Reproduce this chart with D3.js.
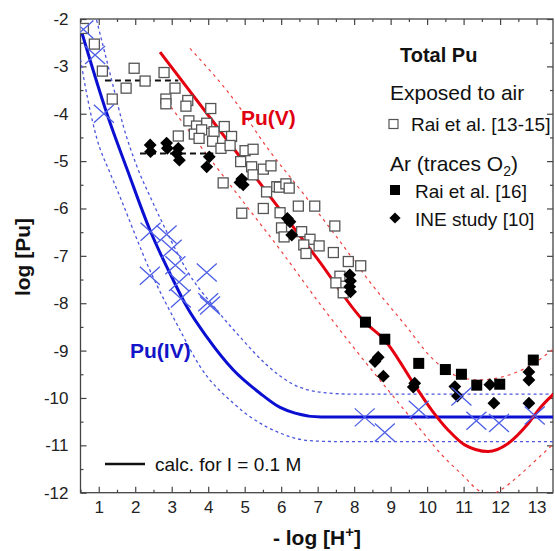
<!DOCTYPE html>
<html>
<head>
<meta charset="utf-8">
<script src="https://cdn.jsdelivr.net/npm/d3@7"></script>
<style>
  body { margin: 0; background: #fff; }
  svg { display: block; font-family: "Liberation Sans", Arial, sans-serif; }
</style>
</head>
<body>
<div id="chart"></div>
<script>
// ---- data: [-log H+, log Pu] ----
const xTicks = [1, 2, 3, 4, 5, 6, 7, 8, 9, 10, 11, 12, 13];
const yTicks = [-2, -3, -4, -5, -6, -7, -8, -9, -10, -11, -12];

const raiAir = [ // open squares, Rai et al. [13-15]
  [0.58,-2.2],[0.88,-2.53],[1.10,-3.10],[1.37,-3.69],[1.75,-3.46],[1.97,-3.04],[2.27,-3.31],
  [2.79,-3.13],[3.09,-3.46],[2.84,-3.69],[2.84,-3.79],[3.44,-3.72],[3.39,-3.84],[4.07,-3.89],
  [3.47,-4.15],[3.68,-4.26],[3.96,-4.20],[3.62,-4.43],[3.82,-4.34],[3.75,-4.52],[4.16,-4.38],
  [4.12,-4.58],[4.44,-4.27],[3.18,-4.47],[4.35,-4.73],[4.64,-4.48],[4.60,-4.67],[5.01,-4.78],
  [5.23,-4.75],[4.89,-5.01],[5.19,-5.12],[5.23,-5.29],[4.41,-5.46],[4.92,-6.10],[5.51,-6.00],
  [5.60,-5.65],[5.88,-5.54],[5.51,-5.17],[5.72,-5.10],[5.95,-5.55],[6.13,-5.48],[6.22,-5.57],
  [5.97,-6.09],[6.47,-5.95],[6.92,-5.95],[6.01,-6.41],[6.08,-6.60],[6.56,-6.49],[6.79,-6.65],
  [7.04,-6.79],[6.62,-6.77],[6.68,-6.95],[7.47,-6.37],[7.43,-6.93],[7.84,-7.12],[8.18,-7.21],
  [7.61,-7.43],[7.50,-7.57],[7.70,-7.78]
];
const raiAr = [ // filled squares, Rai et al. [16]
  [8.31,-8.40],[8.84,-8.76],[9.77,-9.27],[10.50,-9.40],[10.94,-9.50],[11.36,-9.73],
  [11.99,-9.71],[12.91,-9.20]
];
const ineStudy = [ // diamonds, INE study [10]
  [2.41,-4.66],[2.42,-4.80],[2.86,-4.62],[2.88,-4.73],[3.18,-4.73],[3.14,-4.84],[3.21,-4.98],
  [4.03,-4.91],[3.96,-5.12],[4.92,-5.38],[4.96,-5.50],[4.87,-5.45],[6.17,-6.21],[6.24,-6.28],
  [6.29,-6.56],[7.88,-7.40],[7.90,-7.53],[7.88,-7.65],[7.90,-7.76],[8.57,-9.23],[8.66,-9.14],
  [8.80,-9.54],[9.66,-9.69],[9.62,-9.77],[10.76,-9.76],[10.83,-9.96],[11.72,-9.72],
  [11.83,-10.11],[12.79,-9.45],[12.79,-9.62],[12.79,-10.11]
];
const puIVData = [ // blue crosses
  [0.58,-2.22],[0.90,-2.76],[1.14,-4.0],[2.42,-6.49],[2.86,-6.55],[3.0,-6.85],[3.1,-7.2],
  [3.2,-7.55],[3.25,-7.9],[2.4,-7.42],[3.96,-7.35],[4.0,-7.98],[4.05,-8.05],
  [8.29,-10.41],[8.84,-10.73],[9.77,-10.25],[10.94,-9.97],[11.35,-10.48],[11.97,-10.53],[12.95,-10.37]
];

const puVCalc = [[2.68,-2.70],[5,-5.04],[7,-7.07],[8.29,-8.40],[8.84,-8.78],[9.66,-9.73],[10.12,-10.25],
  [10.58,-10.68],[11.03,-10.99],[11.67,-11.13],[12.22,-10.96],[12.77,-10.54],[13.13,-10.18],[13.49,-9.90]];
const puVUpper = [[3.5,-2.62],[4.78,-3.78],[5.6,-4.7],[6.6,-5.68],[7.52,-6.6],[8.43,-7.55],[9.44,-8.5],
  [10.12,-9.15],[10.76,-9.52],[11.4,-9.62],[12.04,-9.56],[12.77,-9.34],[13.49,-8.95]];
const puVLower = [[2.75,-3.62],[4,-4.9],[5,-5.9],[6,-6.9],[7,-7.95],[8,-8.95],[9,-9.9],[9.8,-10.65],
  [10.4,-11.2],[11,-11.65],[11.4,-11.95],[11.7,-12.05],[12,-11.95],[12.5,-11.65],[13,-11.3],[13.49,-10.95]];

const puIVCalc = [[0.53,-2.27],[1.22,-3.99],[1.8,-5.22],[2.40,-6.45],[3.04,-7.51],[3.41,-8.07],[3.96,-8.71],
  [4.69,-9.41],[5.42,-9.90],[5.97,-10.2],[6.38,-10.32],[7.1,-10.40],[13.49,-10.40]];
const puIVUpper = [[0.94,-2.02],[1.40,-3.43],[1.67,-4.25],[2.04,-5.1],[2.45,-5.82],[2.9,-6.55],
  [3.41,-7.30],[4.23,-8.14],[4.87,-8.71],[5.6,-9.3],[6.3,-9.7],[7.1,-9.88],[8,-9.92],[13.49,-9.92]];
const puIVLower = [[0.5,-2.85],[0.7,-3.7],[0.94,-4.5],[1.31,-5.25],[1.58,-5.75],[2.4,-7.3],
  [3.23,-8.57],[3.78,-9.34],[4.69,-10.11],[5.6,-10.61],[6.0,-10.75],[6.74,-10.9],[7.5,-10.92],[13.49,-10.92]];

const plateauAir = [[1.17,-3.3],[3.18,-3.3]];
const plateauAr = [[2.13,-4.84],[4.14,-4.84]];

// ---- drawing ----
const W = 555, H = 551;
const pLeft = 80.5, pRight = 553, pTop = 19, pBottom = 492.7;

const svg = d3.select("#chart").append("svg").attr("width", W).attr("height", H);
svg.append("rect").attr("width", W).attr("height", H).attr("fill", "#fff");

const x = d3.scaleLinear().domain([0.5, 13.45]).range([pLeft, pRight]);
const y = d3.scaleLinear().domain([-12, -2]).range([pBottom, pTop]);

svg.append("clipPath").attr("id", "plot")
  .append("rect").attr("x", pLeft).attr("y", pTop).attr("width", pRight - pLeft).attr("height", pBottom - pTop);

const axisColor = "#444";
const minorX = d3.range(0.5, 13.5, 0.5).filter(v => !Number.isInteger(v));
const minorY = d3.range(-11.5, -2, 1);

function styleAxis(g) {
  g.select(".domain").remove();
  g.selectAll("line").attr("stroke", axisColor).attr("stroke-width", 1.2);
  g.selectAll("text").attr("fill", "#222").style("font-size", "17px");
}

// bottom
svg.append("g").attr("transform", `translate(0,${pBottom})`)
  .call(d3.axisBottom(x).tickValues(xTicks).tickSize(-6).tickPadding(8).tickFormat(d3.format("d")))
  .call(styleAxis);
svg.append("g").attr("transform", `translate(0,${pBottom})`)
  .call(d3.axisBottom(x).tickValues(minorX).tickSize(-3).tickFormat(""))
  .call(styleAxis);
// top
svg.append("g").attr("transform", `translate(0,${pTop})`)
  .call(d3.axisTop(x).tickValues(xTicks).tickSize(-6).tickFormat(""))
  .call(styleAxis);
svg.append("g").attr("transform", `translate(0,${pTop})`)
  .call(d3.axisTop(x).tickValues(minorX).tickSize(-3).tickFormat(""))
  .call(styleAxis);
// left
svg.append("g").attr("transform", `translate(${pLeft},0)`)
  .call(d3.axisLeft(y).tickValues(yTicks).tickSize(-6).tickPadding(12).tickFormat(d => String(d)))
  .call(styleAxis);
svg.append("g").attr("transform", `translate(${pLeft},0)`)
  .call(d3.axisLeft(y).tickValues(minorY).tickSize(-3).tickFormat(""))
  .call(styleAxis);
// right
svg.append("g").attr("transform", `translate(${pRight},0)`)
  .call(d3.axisRight(y).tickValues(yTicks).tickSize(-6).tickFormat(""))
  .call(styleAxis);
svg.append("g").attr("transform", `translate(${pRight},0)`)
  .call(d3.axisRight(y).tickValues(minorY).tickSize(-3).tickFormat(""))
  .call(styleAxis);

svg.append("rect").attr("x", pLeft).attr("y", pTop).attr("width", pRight - pLeft).attr("height", pBottom - pTop)
  .attr("fill", "none").attr("stroke", axisColor).attr("stroke-width", 1.3);

// curves
const line = d3.line().x(d => x(d[0])).y(d => y(d[1])).curve(d3.curveMonotoneX);
const plot = svg.append("g").attr("clip-path", "url(#plot)");

function curve(data, color, width, dash) {
  plot.append("path").datum(data)
    .attr("fill", "none").attr("stroke", color).attr("stroke-width", width)
    .attr("stroke-dasharray", dash || null).attr("d", line);
}
curve(puIVUpper, "#4a55e0", 1.3, "3,3");
curve(puIVLower, "#4a55e0", 1.3, "3,3");
curve(puVUpper, "#f04040", 1.2, "3,4");
curve(puVLower, "#f04040", 1.2, "3,4");
curve(plateauAir, "#111", 2, "6,4");
curve(plateauAr, "#111", 2, "6,4");
curve(puIVCalc, "#0a0fd2", 3);
curve(puVCalc, "#e5000f", 3);

// markers
const sq = 10;
plot.selectAll(".air").data(raiAir).join("rect")
  .attr("x", d => x(d[0]) - sq / 2).attr("y", d => y(d[1]) - sq / 2)
  .attr("width", sq).attr("height", sq)
  .attr("fill", "#fff").attr("stroke", "#555").attr("stroke-width", 1.3);

const diamond = d3.symbol().type(d3.symbolDiamond2).size(105);
plot.selectAll(".ine").data(ineStudy).join("path")
  .attr("transform", d => `translate(${x(d[0])},${y(d[1])})`)
  .attr("d", diamond).attr("fill", "#000");

plot.selectAll(".rai16").data(raiAr).join("rect")
  .attr("x", d => x(d[0]) - 5.5).attr("y", d => y(d[1]) - 5.5)
  .attr("width", 11).attr("height", 11).attr("fill", "#000");

const crossW = 10, crossH = 9;
plot.selectAll(".x4").data(puIVData).join("path")
  .attr("d", d => {
    const cx = x(d[0]), cy = y(d[1]);
    return `M${cx - crossW},${cy - crossH}L${cx + crossW},${cy + crossH}M${cx - crossW},${cy + crossH}L${cx + crossW},${cy - crossH}`;
  })
  .attr("stroke", "#4d5fe6").attr("stroke-width", 1.3).attr("fill", "none");

// labels
svg.append("text").attr("x", 241).attr("y", 125).attr("fill", "#e00010")
  .style("font-size", "21px").style("font-weight", "bold").text("Pu(V)");
svg.append("text").attr("x", 130).attr("y", 358).attr("fill", "#1414c8")
  .style("font-size", "21px").style("font-weight", "bold").text("Pu(IV)");

// legend
const lg = svg.append("g").attr("fill", "#111");
lg.append("text").attr("x", 400).attr("y", 62).style("font-size", "20px").style("font-weight", "bold").text("Total Pu");
lg.append("text").attr("x", 390).attr("y", 100).style("font-size", "21px").text("Exposed to air");
lg.append("rect").attr("x", 389).attr("y", 119.5).attr("width", 9).attr("height", 9)
  .attr("fill", "#fff").attr("stroke", "#555").attr("stroke-width", 1.2);
lg.append("text").attr("x", 411).attr("y", 131).style("font-size", "19px").text("Rai et al. [13-15]");
const ar = lg.append("text").attr("x", 390).attr("y", 171).style("font-size", "21px");
ar.append("tspan").text("Ar (traces O");
ar.append("tspan").attr("dy", 5).style("font-size", "14px").text("2");
ar.append("tspan").attr("dy", -5).text(")");
lg.append("rect").attr("x", 390).attr("y", 185).attr("width", 10).attr("height", 10).attr("fill", "#000");
lg.append("text").attr("x", 415).attr("y", 198).style("font-size", "19px").text("Rai et al. [16]");
lg.append("path").attr("transform", "translate(395,218)")
  .attr("d", d3.symbol().type(d3.symbolDiamond2).size(80)).attr("fill", "#000");
lg.append("text").attr("x", 415).attr("y", 226).style("font-size", "19px").text("INE study [10]");

svg.append("line").attr("x1", 105).attr("x2", 145).attr("y1", 464).attr("y2", 464)
  .attr("stroke", "#111").attr("stroke-width", 2.5);
svg.append("text").attr("x", 155).attr("y", 471).attr("fill", "#111").style("font-size", "19px")
  .text("calc. for I = 0.1 M");

// axis titles
svg.append("text").attr("transform", "translate(30,257) rotate(-90)").attr("text-anchor", "middle")
  .attr("fill", "#111").style("font-size", "21px").style("font-weight", "bold").text("log [Pu]");
const xt = svg.append("text").attr("x", 317).attr("y", 545).attr("text-anchor", "middle")
  .attr("fill", "#111").style("font-size", "21px").style("font-weight", "bold");
xt.append("tspan").text("- log [H");
xt.append("tspan").attr("dy", -8).style("font-size", "15px").text("+");
xt.append("tspan").attr("dy", 8).text("]");
</script>
</body>
</html>
